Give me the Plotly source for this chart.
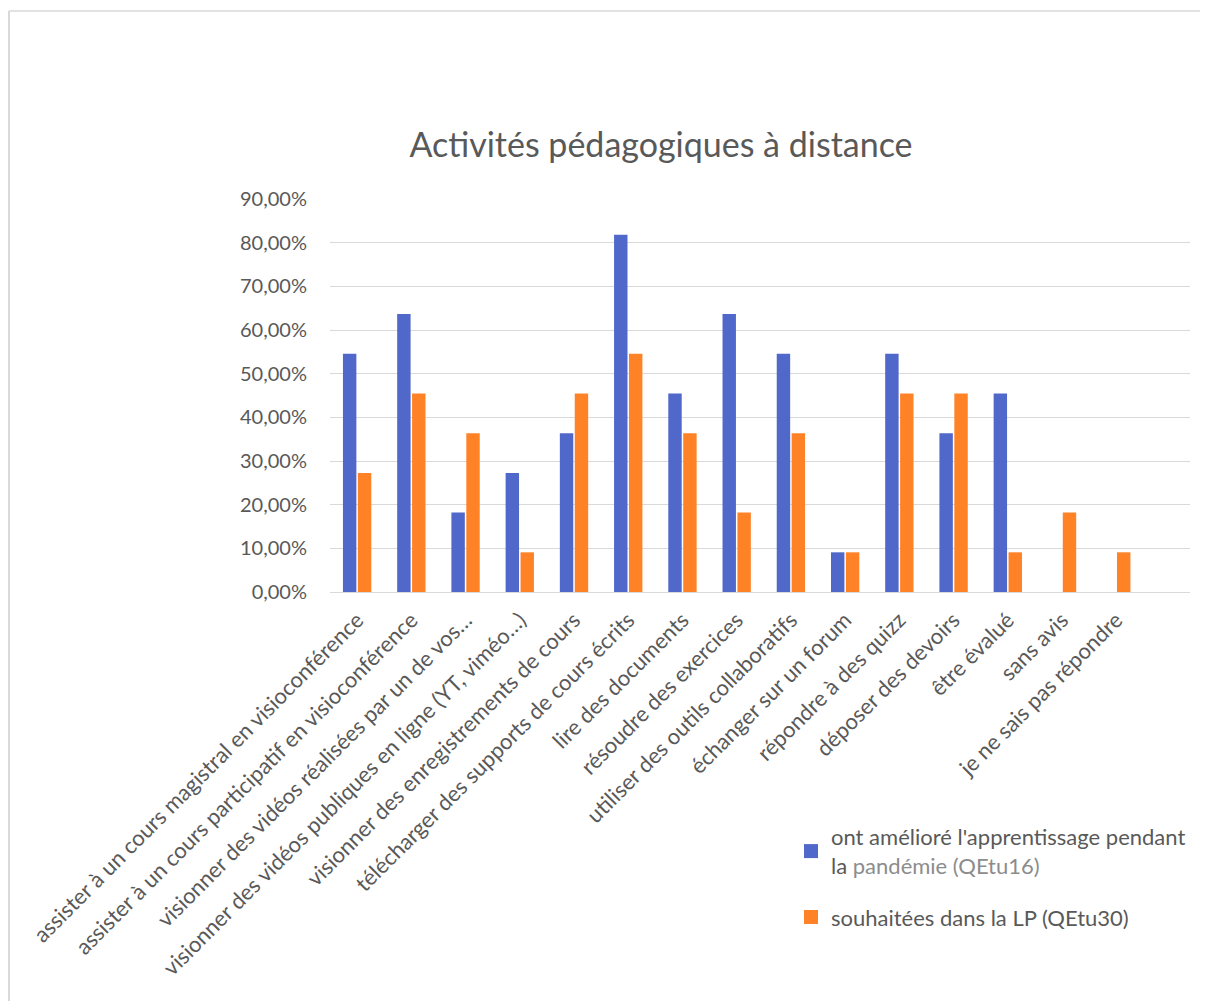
import plotly.graph_objects as go

categories = [
    "assister à un cours magistral en visioconférence",
    "assister à un cours participatif en visioconférence",
    "visionner des vidéos réalisées par un de vos…",
    "visionner des vidéos publiques en ligne (YT, viméo…)",
    "visionner des enregistrements de cours",
    "télécharger des supports de cours écrits",
    "lire des documents",
    "résoudre des exercices",
    "utiliser des outils collaboratifs",
    "échanger sur un forum",
    "répondre à des quizz",
    "déposer des devoirs",
    "être évalué",
    "sans avis",
    "je ne sais pas répondre",
]
ameliore = [0.5455, 0.6364, 0.1818, 0.2727, 0.3636, 0.8182, 0.4545, 0.6364,
            0.5455, 0.0909, 0.5455, 0.3636, 0.4545, 0.0, 0.0]
souhaitees = [0.2727, 0.4545, 0.3636, 0.0909, 0.4545, 0.5455, 0.3636, 0.1818,
              0.3636, 0.0909, 0.4545, 0.4545, 0.0909, 0.1818, 0.0909]

name1 = ("ont amélioré l'apprentissage pendant<br>la "
         "<span style='color:#8c8c8c'>pandémie (QEtu16)</span>")
name2 = "souhaitées dans la LP (QEtu30)"
BLUE, ORANGE = "#4f68c9", "#ff8226"

# page body has an 8px margin: figure is drawn at screen (8, 8)
OFF = 8
SW, SH = 1208, 1001
W, H = SW - OFF, SH - OFF
# plot area in screen pixels
PL, PR, PT, PB = 330, 1190, 199, 592
ML, MR, MT, MB = PL - OFF, SW - PR, PT - OFF, SH - PB
TXT = "#595959"
FONT = "Lato"

fig = go.Figure()
fig.add_trace(go.Bar(x=categories, y=ameliore, name=name1, showlegend=False,
                     marker=dict(color=BLUE, line=dict(width=0))))
fig.add_trace(go.Bar(x=categories, y=souhaitees, name=name2, showlegend=False,
                     marker=dict(color=ORANGE, line=dict(width=0))))
# legend entries with square swatches
fig.add_trace(go.Scatter(x=[None], y=[None], mode="markers", name=name1,
                         legendgroup="a",
                         marker=dict(symbol="square", size=14, color=BLUE)))
fig.add_trace(go.Scatter(x=[None], y=[None], mode="markers", name=name2,
                         legendgroup="b",
                         marker=dict(symbol="square", size=14, color=ORANGE)))

pw = PR - PL
ph = PB - PT
def px_x(p):  # screen px -> paper x
    return (p - PL) / pw
def px_y(p):  # screen px -> paper y
    return (PB - p) / ph

fig.update_layout(
    width=W, height=H,
    margin=dict(l=ML, r=MR, t=MT, b=MB, autoexpand=False),
    paper_bgcolor="white", plot_bgcolor="white",
    separators=", ",
    font=dict(family=FONT, color=TXT, size=21),
    barmode="group", bargap=0.45, bargroupgap=0.1,
    title=dict(text="Activités pédagogiques à distance",
               font=dict(family=FONT, size=34, color=TXT),
               x=(661 - OFF) / W, xanchor="center", xref="container",
               y=1 - (145 - OFF) / H, yanchor="middle", yref="container"),
    xaxis=dict(type="category", range=[-0.5, 15.36], tickangle=-45,
               showgrid=False, showline=False, zeroline=False, ticks="",
               ticklabelstandoff=10,
               automargin=False, tickfont=dict(size=22, color=TXT)),
    yaxis=dict(range=[0, 0.9], dtick=0.1, tickformat=".2%",
               showgrid=True, gridcolor="#d9d9d9", gridwidth=1.3,
               zeroline=True, zerolinecolor="#d9d9d9", zerolinewidth=1.3,
               showline=False, ticks="", ticklabelstandoff=22,
               automargin=False, tickfont=dict(size=20, color=TXT)),
    legend=dict(x=px_x(791), y=px_y(816), xanchor="left", yanchor="top",
                orientation="v", font=dict(size=22, color=TXT),
                tracegroupgap=20, itemwidth=30, bgcolor="rgba(0,0,0,0)",
                traceorder="grouped"),
    showlegend=True,
)

# light chart border (top and left edges)
border = "#d9d9d9"
fig.add_shape(type="line", xref="paper", yref="paper",
              x0=px_x(9), x1=px_x(SW + 5), y0=px_y(11), y1=px_y(11),
              line=dict(color=border, width=1.5))
fig.add_shape(type="line", xref="paper", yref="paper",
              x0=px_x(9), x1=px_x(9), y0=px_y(11), y1=px_y(SH + 5),
              line=dict(color=border, width=2))

fig.write_html("out.html")
